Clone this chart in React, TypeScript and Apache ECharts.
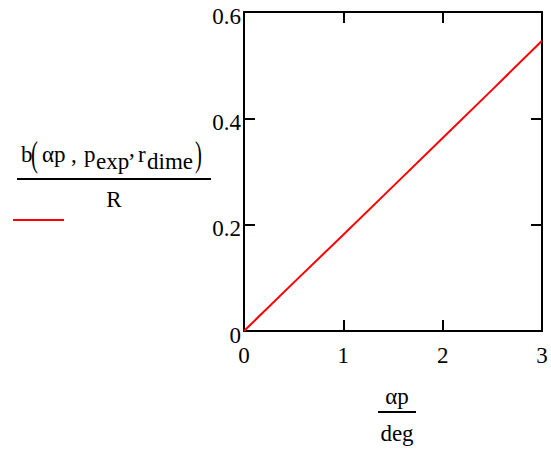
import React, { useEffect, useRef } from "react";
import * as echarts from "echarts";

const xValues = [0, 0.5, 1, 1.5, 2, 2.5, 3];
const yValues = [0, 0.091, 0.181, 0.272, 0.363, 0.454, 0.546];
const xTicks = [0, 1, 2, 3];
const yTicks = [0, 0.2, 0.4, 0.6];

const FONT = "Liberation Serif";

export default function App() {
  const ref = useRef<HTMLDivElement>(null);
  useEffect(() => {
    if (!ref.current) return;
    const chart = echarts.init(ref.current, null, { renderer: "svg" });
    const data = xValues.map((x, i) => [x, yValues[i]]);
    const txt = (text: string, x: number, y: number, size: number, align = "left", extra: any = {}) => ({
      type: "text",
      x,
      y,
      style: {
        text,
        fill: "#000",
        fontFamily: FONT,
        fontSize: size,
        align,
        verticalAlign: "middle",
        ...extra,
      },
    });
    const axisCommon = {
      type: "value" as const,
      axisLine: { show: true, onZero: false, lineStyle: { color: "#000", width: 2 } },
      axisTick: { show: true, inside: true, length: 11, lineStyle: { color: "#000", width: 2 } },
      splitLine: { show: false },
    };
    const T = 23;
    const ty = 154;
    chart.setOption({
      animation: false,
      grid: { left: 244, right: 9, top: 12, bottom: 119, outerBoundsMode: "none" } as any,
      xAxis: [
        {
          ...axisCommon,
          min: 0,
          max: 3,
          interval: 1,
          position: "bottom",
          axisLabel: {
            show: true,
            margin: 13,
            color: "#000",
            fontFamily: FONT,
            fontSize: 23,
            formatter: (v: number) => (xTicks.includes(v) ? String(v) : ""),
          },
        },
        {
          ...axisCommon,
          min: 0,
          max: 3,
          interval: 1,
          position: "top",
          axisLabel: { show: false },
        },
      ],
      yAxis: [
        {
          ...axisCommon,
          min: 0,
          max: 0.6,
          interval: 0.2,
          position: "left",
          axisLabel: {
            show: true,
            margin: 3,
            color: "#000",
            fontFamily: FONT,
            fontSize: 23,
            verticalAlign: "top",
            lineHeight: 8,
            formatter: (v: number) => {
              const t = yTicks.find((k) => Math.abs(k - v) < 1e-9);
              return t === undefined ? "" : String(t);
            },
          },
        },
        {
          ...axisCommon,
          min: 0,
          max: 0.6,
          interval: 0.2,
          position: "right",
          axisLabel: { show: false },
        },
      ],
      series: [
        {
          type: "line",
          data,
          showSymbol: false,
          symbol: "none",
          lineStyle: { color: "#ff0000", width: 2 },
          xAxisIndex: 0,
          yAxisIndex: 0,
        },
      ],
      graphic: [
        txt("b", 21, ty, T),
        { ...txt("(", 31, ty, T), scaleX: 0.9, scaleY: 1.55 },
        txt("αp", 42, ty, T),
        txt(",", 71, ty, T),
        txt("p", 84, ty, T),
        txt("exp", 96, ty + 7, T),
        txt(",", 129, ty - 6, T),
        txt("r", 138, ty, T),
        txt("dime", 147, ty + 7, T),
        { ...txt(")", 195, ty, T), scaleX: 0.9, scaleY: 1.55 },
        { type: "line", shape: { x1: 17, y1: 179, x2: 211, y2: 179 }, style: { stroke: "#000", lineWidth: 2 } },
        txt("R", 114, 199, T, "center"),
        { type: "line", shape: { x1: 13, y1: 220, x2: 64, y2: 220 }, style: { stroke: "#ff0000", lineWidth: 2 } },
        txt("αp", 397, 396, T, "center"),
        { type: "line", shape: { x1: 378, y1: 412, x2: 416, y2: 412 }, style: { stroke: "#000", lineWidth: 2 } },
        txt("deg", 397, 433, T, "center"),
      ],
    });
    return () => chart.dispose();
  }, []);
  return (
    <div
      ref={ref}
      style={{ position: "fixed", left: 0, top: 0, width: 551, height: 450, background: "#fff" }}
    />
  );
}
